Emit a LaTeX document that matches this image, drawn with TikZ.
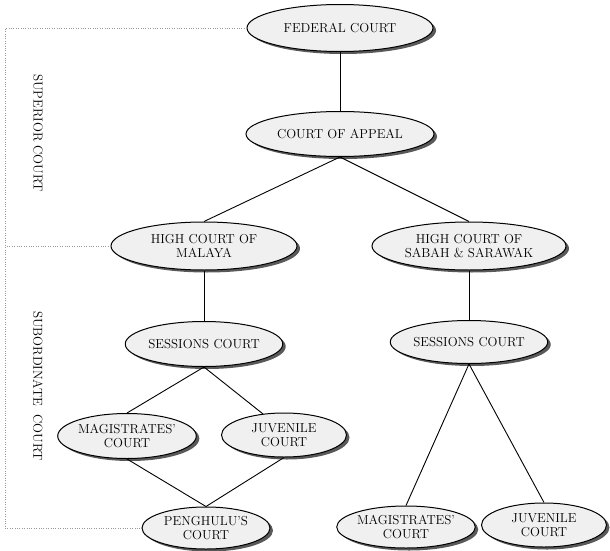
\documentclass[tikz,border=0pt]{standalone}
\usepackage{tikz}
\usetikzlibrary{shapes.geometric,shadows}

\tikzset{
    court/.style={ellipse, draw, line width=1pt, fill=gray!12, inner sep=0pt, align=center,
        font=\fontsize{13}{14}\selectfont,
        drop shadow={shadow xshift=3pt, shadow yshift=-2.5pt, fill=black!65, opacity=1}},
    link/.style={line width=0.9pt},
    bracket/.style={dotted, gray!80}
}

\begin{document}
\begin{tikzpicture}[x=1pt, y=-1pt]
    \useasboundingbox (0,0) rectangle (610,551);

    % Superior courts
    \node[court, minimum width=186pt, minimum height=47pt] (fed) at (340,28) {FEDERAL COURT};
    \node[court, minimum width=188pt, minimum height=45pt] (appeal) at (340,134) {COURT OF APPEAL};
    \node[court, minimum width=186pt, minimum height=48pt] (hcm) at (204,246) {HIGH COURT OF\\MALAYA};
    \node[court, minimum width=194pt, minimum height=48pt] (hcss) at (469,246) {HIGH COURT OF\\SABAH \& SARAWAK};

    % Subordinate courts (Malaya)
    \node[court, minimum width=149pt, minimum height=45pt] (sesm) at (204,344) {SESSIONS COURT};
    \node[court, minimum width=128pt, minimum height=45pt] (magm) at (127,436) {MAGISTRATES'\\COURT};
    \node[court, minimum width=125pt, minimum height=44pt] (juvm) at (284,435) {JUVENILE\\COURT};
    \node[court, minimum width=128pt, minimum height=42pt] (peng) at (206,528) {PENGHULU'S\\COURT};

    % Subordinate courts (Sabah & Sarawak)
    \node[court, minimum width=145pt, minimum height=43pt] (sess) at (469,342) {SESSIONS COURT};
    \node[court, minimum width=123pt, minimum height=42pt] (mags) at (406,527) {MAGISTRATES'\\COURT};
    \node[court, minimum width=125pt, minimum height=44pt] (juvs) at (544,525) {JUVENILE\\COURT};

    % Hierarchy links
    \draw[link] (fed) -- (appeal);
    \draw[link] (appeal.south) -- (hcm.north);
    \draw[link] (appeal.south) -- (hcss.north);
    \draw[link] (hcm) -- (sesm);
    \draw[link] (hcss) -- (sess);
    \draw[link] (sesm.south) -- (magm.north);
    \draw[link] (sesm.south) -- (juvm.135);
    \draw[link] (magm.south) -- (peng.north);
    \draw[link] (juvm.south) -- (peng.north);
    \draw[link] (sess.south) -- (mags.north);
    \draw[link] (sess.south) -- (juvs.north);

    % Dotted bracket
    \coordinate (bx) at (5,0);
    \draw[bracket] (fed.west) -| (bx |- peng.west) -- (peng.west);
    \draw[bracket] (hcm.west) -- (bx |- hcm.west);

    % Side labels
    \node[rotate=-90, font=\fontsize{13}{14}\selectfont] (sup) at (38,133) {SUPERIOR COURT};
    \node[rotate=-90, font=\fontsize{13}{14}\selectfont] (sub) at (38,386) {SUBORDINATE\ \ COURT};
\end{tikzpicture}
\end{document}
